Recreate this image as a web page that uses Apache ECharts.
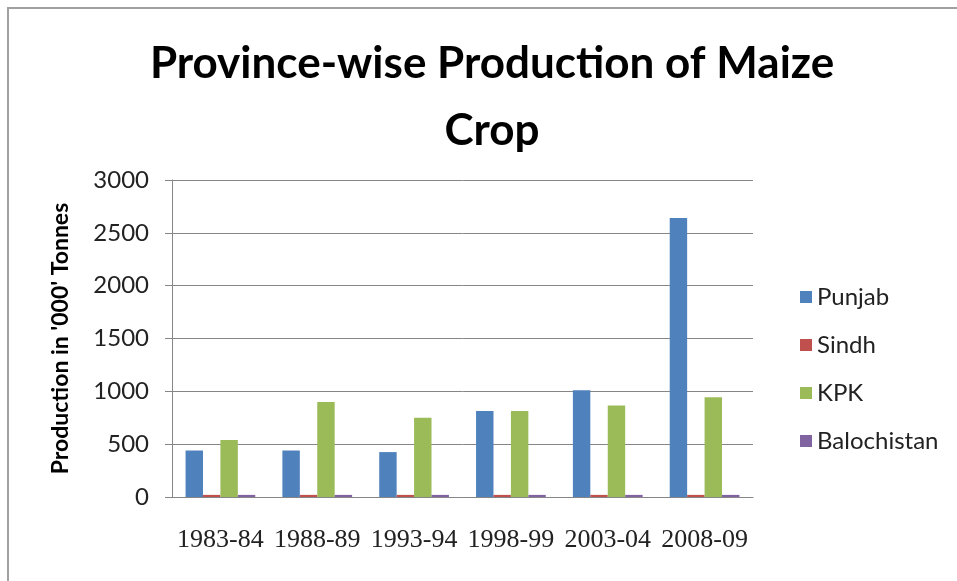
<!DOCTYPE html>
<html>
<head>
    <meta charset="utf-8">
    <title>Maize</title>
    <script src="https://cdn.jsdelivr.net/npm/echarts@6/dist/echarts.min.js"></script>
    <style>
        body { margin: 0; background: #ffffff; }
        #frame { position: absolute; left: 7px; top: 7px; width: 950px; height: 574px;
                 border-top: 2px solid #a0a0a0; border-left: 2px solid #a0a0a0; }
        #chart { width: 957px; height: 581px; }
    </style>
</head>
<body>
<div id="frame"></div>
<div id="chart"></div>
<script>
    const years = ['1983-84', '1988-89', '1993-94', '1998-99', '2003-04', '2008-09'];
    const punjab = [440, 440, 425, 815, 1010, 2640];
    const sindh = [20, 20, 20, 20, 20, 20];
    const kpk = [540, 900, 750, 815, 865, 945];
    const balochistan = [20, 20, 20, 20, 20, 20];
    const yTicks = [0, 500, 1000, 1500, 2000, 2500, 3000];

    const colors = ['#4F81BD', '#C0504D', '#9BBB59', '#8064A2'];

    function bar(name, data) {
        return { name: name, type: 'bar', data: data, barGap: '0%', barCategoryGap: '28%' };
    }

    var chart = echarts.init(document.getElementById('chart'));
    var option = {
        color: colors,
        animation: false,
        title: {
            text: 'Province-wise Production of Maize\nCrop',
            left: 487,
            top: 25,
            textAlign: 'center',
            textStyle: { fontFamily: 'Lato', fontWeight: 'bold', fontSize: 44, lineHeight: 67, color: '#000' }
        },
        legend: {
            orient: 'vertical',
            left: 795,
            top: 280,
            itemWidth: 12,
            itemHeight: 12,
            itemGap: 24,
            icon: 'rect',
            data: ['Punjab', 'Sindh', 'KPK', 'Balochistan'],
            textStyle: { fontFamily: 'Lato', fontSize: 24, color: '#222' }
        },
        grid: { left: 172, right: 204, top: 180, bottom: 84 },
        xAxis: {
            type: 'category',
            data: years,
            axisLine: { lineStyle: { color: '#868686' } },
            axisTick: { show: false },
            axisLabel: { interval: 0, fontFamily: 'Liberation Serif', fontSize: 26, color: '#222', margin: 30 }
        },
        yAxis: {
            type: 'value',
            min: yTicks[0],
            max: yTicks[yTicks.length - 1],
            interval: 500,
            name: "Production in '000' Tonnes",
            nameLocation: 'middle',
            nameGap: 100,
            nameTextStyle: { fontFamily: 'Lato', fontWeight: 'bold', fontSize: 23, color: '#000' },
            axisLine: { show: true, lineStyle: { color: '#868686' } },
            axisTick: { show: true, inside: false, length: 7, lineStyle: { color: '#868686' } },
            splitLine: { lineStyle: { color: '#868686' } },
            axisLabel: { fontFamily: 'Lato', fontSize: 24, color: '#222', margin: 23,
                         formatter: function (v) { return String(v); } }
        },
        series: [
            bar('Punjab', punjab),
            bar('Sindh', sindh),
            bar('KPK', kpk),
            bar('Balochistan', balochistan)
        ]
    };
    chart.setOption(option);
</script>
</body>
</html>
